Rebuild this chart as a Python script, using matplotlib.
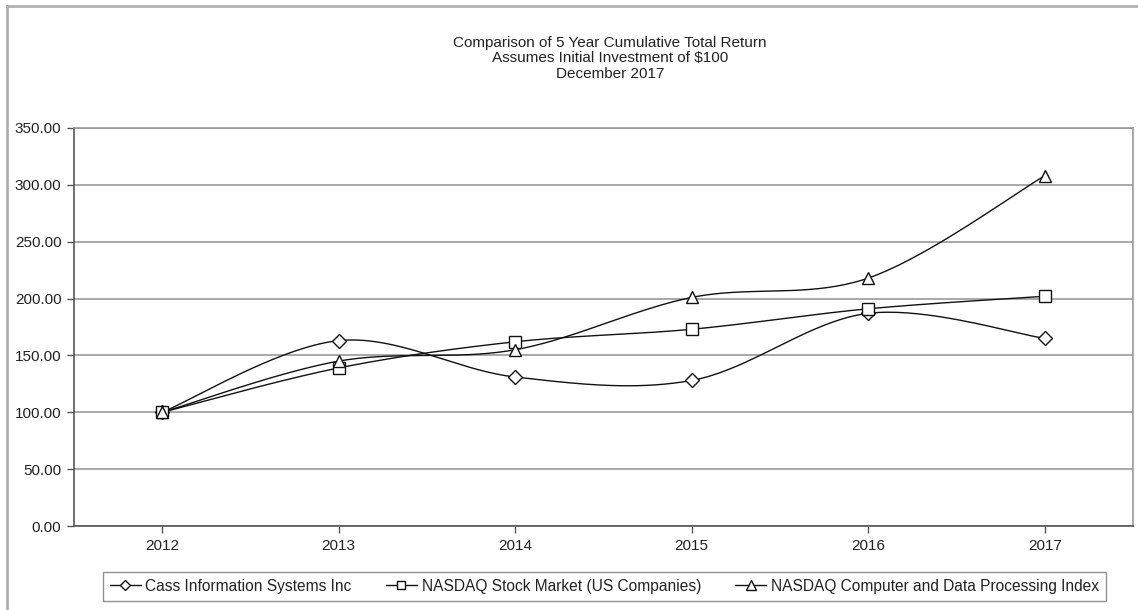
import matplotlib
matplotlib.use("Agg")
import matplotlib.pyplot as plt
from matplotlib.lines import Line2D
import numpy as np

plt.rcParams['font.family'] = ['Liberation Sans', 'DejaVu Sans']

years = ['2012', '2013', '2014', '2015', '2016', '2017']
cass = [100.0, 163.0, 131.0, 128.0, 187.0, 165.0]
nasdaq_us = [100.0, 139.0, 162.0, 173.0, 191.0, 202.0]
nasdaq_comp = [100.0, 145.0, 155.0, 201.0, 218.0, 308.0]

series_names = ['Cass Information Systems Inc',
                'NASDAQ Stock Market (US Companies)',
                'NASDAQ Computer and Data Processing Index']
title_lines = ['Comparison of 5 Year Cumulative Total Return',
               'Assumes Initial Investment of $100',
               'December 2017']


def smooth(x, y, n=40):
    # Excel style smoothed line: cubic bezier with catmull-rom control points
    x = np.asarray(x, float)
    y = np.asarray(y, float)
    px = np.concatenate([[x[0]], x, [x[-1]]])
    py = np.concatenate([[y[0]], y, [y[-1]]])
    t = np.linspace(0, 1, n)
    xs, ys = [], []
    for i in range(1, len(px) - 2):
        p0 = np.array([px[i], py[i]])
        p3 = np.array([px[i + 1], py[i + 1]])
        c1 = p0 + (np.array([px[i + 1], py[i + 1]]) - np.array([px[i - 1], py[i - 1]])) / 6
        c2 = p3 - (np.array([px[i + 2], py[i + 2]]) - np.array([px[i], py[i]])) / 6
        b = ((1 - t) ** 3)[:, None] * p0 + (3 * (1 - t) ** 2 * t)[:, None] * c1 \
            + (3 * (1 - t) * t ** 2)[:, None] * c2 + (t ** 3)[:, None] * p3
        xs.append(b[:, 0])
        ys.append(b[:, 1])
    return np.concatenate(xs), np.concatenate(ys)


fig = plt.figure(figsize=(11.38, 6.10), dpi=100)
ax = fig.add_axes([0.065, 0.1377, 0.9306, 0.6525])

x = np.arange(len(years))
markers = ['D', 's', '^']
msizes = [7, 8.5, 9]
handles = []
for vals, mk, ms, name in zip([cass, nasdaq_us, nasdaq_comp], markers, msizes, series_names):
    sx, sy = smooth(x, vals)
    ax.plot(sx, sy, color='#111111', lw=1.0, zorder=3)
    ax.plot(x, vals, linestyle='none', marker=mk, ms=ms, mfc='white',
            mec='#111111', mew=1.0, zorder=4)
    handles.append(Line2D([], [], color='#111111', lw=1.0, marker=mk, ms=ms * 0.75,
                          mfc='white', mec='#111111', mew=1.0))

ax.set_xlim(-0.5, len(years) - 0.5)
ax.set_ylim(0, 350)
ax.set_xticks(x)
ax.set_xticklabels(years)
ax.set_yticks(np.arange(0, 351, 50))
ax.set_yticklabels(['%.2f' % v for v in np.arange(0, 351, 50)])
ax.tick_params(axis='both', direction='out', length=5, width=1, color='#555555',
               labelsize=11, labelcolor='#222222', pad=4)
ax.yaxis.grid(True, color='#999999', lw=1.2)
ax.set_axisbelow(True)
for side in ['left', 'bottom']:
    ax.spines[side].set_color('#555555')
    ax.spines[side].set_linewidth(1.2)
for side in ['top', 'right']:
    ax.spines[side].set_color('#999999')
    ax.spines[side].set_linewidth(1.2)

ys_title = [0.930, 0.905, 0.879]
for txt, yy in zip(title_lines, ys_title):
    fig.text(0.536, yy, txt, ha='center', va='center', fontsize=11, color='#222222')

leg = fig.legend(handles, series_names, loc='center', bbox_to_anchor=(0.531, 0.039),
                 ncol=3, frameon=True, fontsize=11.2, handlelength=2.0,
                 handletextpad=0.3, columnspacing=2.2, borderpad=0.45,
                 fancybox=False, edgecolor='#777777')
leg.get_frame().set_linewidth(1.0)
for t in leg.get_texts():
    t.set_color('#222222')

# outer chart frame (top and left visible)
fig.add_artist(Line2D([0.0065, 0.0065], [0.0, 0.99], transform=fig.transFigure,
                      color='#b0b0b0', lw=2))
fig.add_artist(Line2D([0.0065, 1.0], [0.99, 0.99], transform=fig.transFigure,
                      color='#b0b0b0', lw=2))

fig.savefig('out.png', dpi=100)
